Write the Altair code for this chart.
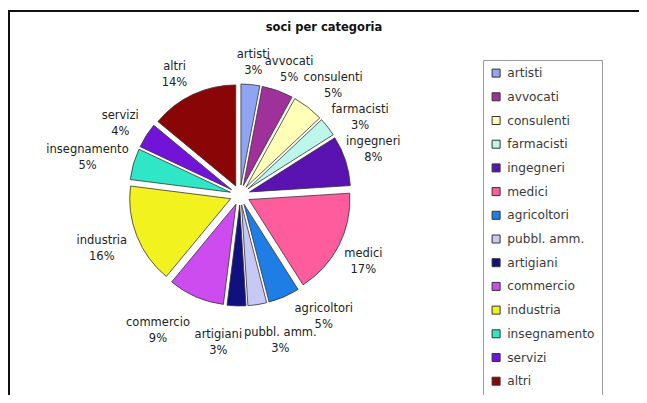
import altair as alt
import pandas as pd

categories = ["artisti", "avvocati", "consulenti", "farmacisti", "ingegneri", "medici",
              "agricoltori", "pubbl. amm.", "artigiani", "commercio", "industria",
              "insegnamento", "servizi", "altri"]
percents = [3, 5, 5, 3, 8, 17, 5, 3, 3, 9, 16, 5, 4, 14]
colors = ["#8FA4F2", "#A0309A", "#FFFFB8", "#BDF7EA", "#5A12B0", "#FF5C9E",
          "#1F7EE6", "#C8C8F5", "#10107E", "#CC4CF0", "#F2F21E", "#2FE6C6",
          "#7214D8", "#8A0505"]
title_text = "soci per categoria"

# manual label drags (like Excel's best-fit placement of crowded labels)
label_drag_x = {"artigiani": -17, "pubbl. amm.": 16, "agricoltori": 22, "commercio": -23,
                "ingegneri": -8, "altri": -8}
label_drag_y = {"agricoltori": -14, "consulenti": -4, "farmacisti": 5, "ingegneri": -4}

df = pd.DataFrame({"category": categories, "value": percents,
                   "order": list(range(len(categories)))})
df["ddx"] = [label_drag_x.get(c, 0) for c in categories]
df["ddy"] = [label_drag_y.get(c, 0) for c in categories]

CX, CY, R, D = 232, 187, 101, 10
LR = R + D + 7

base = (
    alt.Chart(df)
    .transform_window(cum="sum(value)", sort=[alt.SortField("order")], frame=[None, 0])
    .transform_joinaggregate(total="sum(value)")
    .transform_calculate(start="(datum.cum - datum.value) / datum.total * 2 * PI")
    .transform_calculate(end="datum.cum / datum.total * 2 * PI")
    .transform_calculate(mid="(datum.start + datum.end) / 2")
    .transform_calculate(cx=f"{CX} + {D} * sin(datum.mid)")
    .transform_calculate(cy=f"{CY} - {D} * cos(datum.mid)")
    .transform_calculate(lx=f"{CX} + ({LR} + length(datum.category) * 3.4) * sin(datum.mid) + datum.ddx")
    .transform_calculate(ly=f"{CY} - ({LR} + (cos(datum.mid) < 0 ? 30 : 15)) * cos(datum.mid) - 8 + datum.ddy")
    .transform_calculate(label="datum.category + '\\n' + datum.value + '%'")
)

pie = base.mark_arc(outerRadius=R, stroke="#333333", strokeWidth=0.8).encode(
    x=alt.X("cx:Q", scale=None, axis=None),
    y=alt.Y("cy:Q", scale=None, axis=None),
    theta=alt.Theta("start:Q", scale=None, stack=None),
    theta2="end:Q",
    color=alt.Color(
        "category:N",
        scale=alt.Scale(domain=categories, range=colors),
        legend=alt.Legend(
            title=None, orient="none", legendX=475, legendY=52, padding=7,
            strokeColor="#9a9a9a", fillColor="white", symbolType="square",
            symbolSize=64, symbolStrokeColor="#333333", symbolStrokeWidth=1,
            labelFont="DejaVu Sans", labelFontSize=12.2, labelColor="#3a3a3a",
            rowPadding=10.7, labelOffset=5, symbolOpacity=1,
        ),
    ),
)

labels = base.mark_text(
    font="DejaVu Sans", fontSize=11.5, lineBreak="\n", lineHeight=16,
    color="#222222", align="center", baseline="middle",
).encode(
    x=alt.X("lx:Q", scale=None, axis=None),
    y=alt.Y("ly:Q", scale=None, axis=None),
    text="label:N",
)

one = pd.DataFrame({"t": [title_text]})
title = alt.Chart(one).mark_text(
    font="DejaVu Sans", fontSize=11.5, fontWeight="bold", color="#111111",
    align="center", baseline="middle",
).encode(x=alt.value(316), y=alt.value(20), text="t:N")

frame_top = alt.Chart(one).mark_rule(color="#111111", strokeWidth=2).encode(
    x=alt.value(0), x2=alt.value(640), y=alt.value(3))
frame_left = alt.Chart(one).mark_rule(color="#111111", strokeWidth=2).encode(
    x=alt.value(1), y=alt.value(3), y2=alt.value(400))

chart = (
    alt.layer(frame_top, frame_left, title, pie, labels)
    .properties(width=631, height=387, padding=0, autosize="none")
    .configure_view(stroke=None)
)

chart.save("out.html", embed_options={"renderer": "svg", "actions": False})
